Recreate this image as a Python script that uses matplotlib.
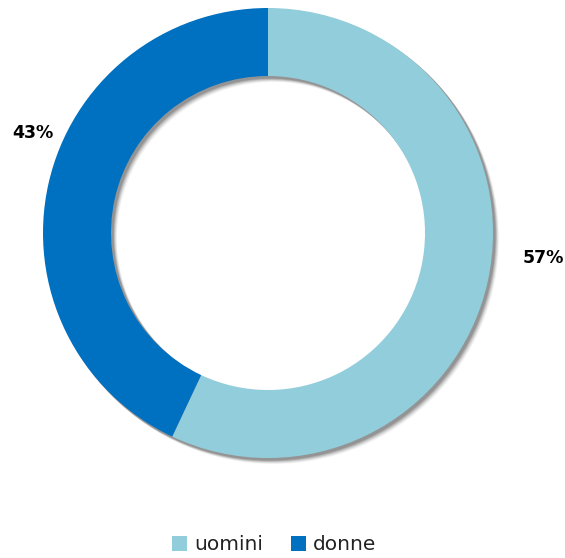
import matplotlib
matplotlib.use("Agg")
import matplotlib.pyplot as plt
from matplotlib.patches import Wedge, Patch

labels = ["uomini", "donne"]
values = [57, 43]
pct_labels = ["57%", "43%"]
colors = ["#92CDDC", "#0070C0"]

W, H = 565, 558
fig = plt.figure(figsize=(W / 100, H / 100), dpi=100)
ax = fig.add_axes([0, 0, 1, 1])
ax.set_xlim(0, W)
ax.set_ylim(0, H)
ax.set_aspect("equal")
ax.axis("off")

cx, cy = 268, H - 233
R, width = 225, 68

# drop shadow (offset right/down, soft)
for d, a in [(8, 0.04), (7, 0.05), (6, 0.07), (5, 0.09), (4, 0.11), (3, 0.14)]:
    ax.add_patch(Wedge((cx + d * 0.7, cy - d * 0.7), R + 0.5, 0, 360,
                       width=width + 1, facecolor="#000000", alpha=a,
                       edgecolor="none", zorder=1))

wedges, _ = ax.pie(values, colors=colors, startangle=90, counterclock=False,
                   radius=R, center=(cx, cy), frame=True,
                   wedgeprops=dict(width=width, edgecolor="none"))
for w in wedges:
    w.set_zorder(2)
ax.set_xlim(0, W)
ax.set_ylim(0, H)
ax.axis("off")

ax.text(543, H - 258, pct_labels[0], ha="center", va="center",
        fontsize=12.5, fontweight="bold", color="black")
ax.text(33, H - 133, pct_labels[1], ha="center", va="center",
        fontsize=12.5, fontweight="bold", color="black")

handles = [Patch(facecolor=c, edgecolor="none") for c in colors]
leg = fig.legend(handles, labels, loc="center", bbox_to_anchor=(274 / W, 1 - 545 / H),
                 ncol=2, frameon=False, fontsize=14.5, handlelength=0.75,
                 handleheight=0.75, handletextpad=0.35, columnspacing=1.4)
for t in leg.get_texts():
    t.set_color("#222222")

fig.savefig("out.png", dpi=100)
